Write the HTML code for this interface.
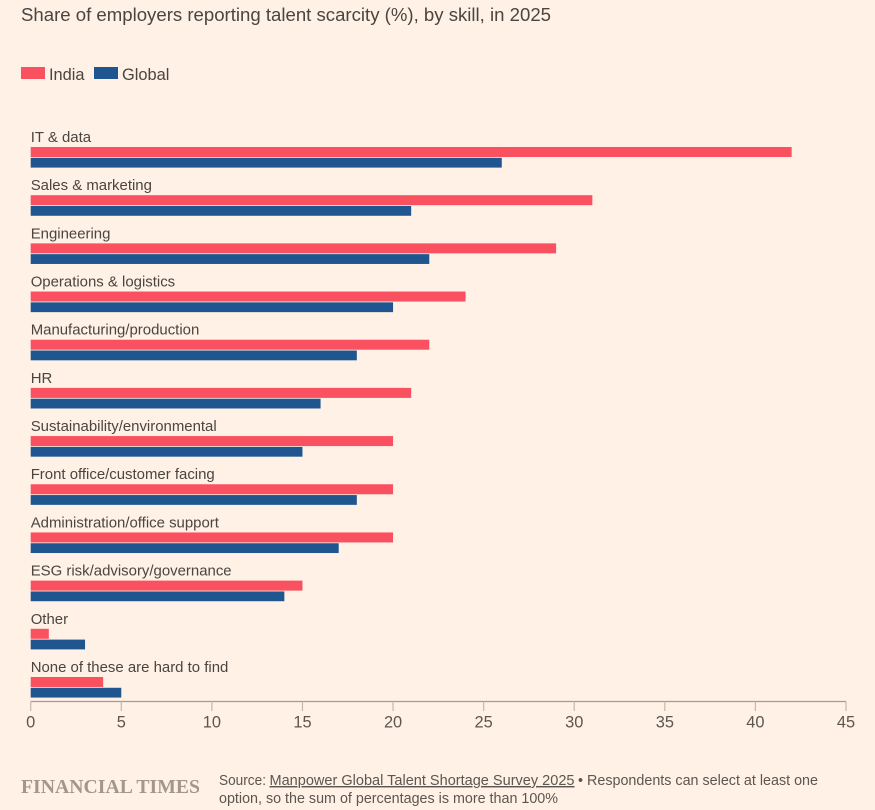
<!DOCTYPE html>
<html lang="en">
<head>
<meta charset="utf-8">
<title>Share of employers reporting talent scarcity</title>
<style>
  html, body { margin: 0; padding: 0; background: #fff1e5; }
  svg { display: block; font-family: "Liberation Sans", sans-serif; }
  .ink { fill: #4a4541; }
  .foot { fill: #5c5650; font-size: 14.3px; }
</style>
</head>
<body>
<svg id="chart" xmlns="http://www.w3.org/2000/svg" width="875" height="810" viewBox="0 0 875 810">
  <rect x="0" y="0" width="875" height="810" fill="#fff1e5"/>
  <text class="ink" x="21" y="21" font-size="18.6" textLength="530" lengthAdjust="spacingAndGlyphs">Share of employers reporting talent scarcity (%), by skill, in 2025</text>
  <g>
    <rect x="21" y="67" width="24" height="12" fill="#f95160"/>
    <text class="ink" x="49" y="80" font-size="16.4">India</text>
    <rect x="94" y="67" width="24" height="12" fill="#1f5690"/>
    <text class="ink" x="122" y="80" font-size="16.4">Global</text>
  </g>
  <g id="plot"></g>
  <text x="21" y="793" font-family="'Liberation Serif', serif" font-weight="bold" font-size="20.5" fill="#a2978d" textLength="179" lengthAdjust="spacingAndGlyphs">FINANCIAL TIMES</text>
  <text class="foot" x="219" y="785" textLength="47" lengthAdjust="spacingAndGlyphs">Source:</text>
  <text class="foot" x="269.5" y="785" textLength="305" lengthAdjust="spacingAndGlyphs" text-decoration="underline">Manpower Global Talent Shortage Survey 2025</text>
  <text class="foot" x="578" y="785" textLength="240" lengthAdjust="spacingAndGlyphs">• Respondents can select at least one</text>
  <text class="foot" x="219" y="803" textLength="339" lengthAdjust="spacingAndGlyphs">option, so the sum of percentages is more than 100%</text>
</svg>
<script>
const categories = ["IT & data", "Sales & marketing", "Engineering", "Operations & logistics", "Manufacturing/production", "HR", "Sustainability/environmental", "Front office/customer facing", "Administration/office support", "ESG risk/advisory/governance", "Other", "None of these are hard to find"];
const indiaValues = [42, 31, 29, 24, 22, 21, 20, 20, 20, 15, 1, 4];
const globalValues = [26, 21, 22, 20, 18, 16, 15, 18, 17, 14, 3, 5];
const tickValues = [0, 5, 10, 15, 20, 25, 30, 35, 40, 45];

const NS = "http://www.w3.org/2000/svg";
const plot = document.getElementById("plot");
const xMax = 45;
function xScale(v) { return 30.7 + (v / xMax) * (846 - 30.7); }
function rowTop(i) { return 147 + i * 48.18; }

function make(tag, attrs, parent) {
  const el = document.createElementNS(NS, tag);
  for (const k in attrs) el.setAttribute(k, attrs[k]);
  parent.appendChild(el);
  return el;
}

categories.forEach(function (cat, i) {
  const slug = cat.toLowerCase().replace(/[^a-z0-9]+/g, "-");
  const label = make("text", { x: xScale(0), y: rowTop(i) - 5.05, "font-size": 14.95, "class": "ink" }, plot);
  label.textContent = cat;
  
  
  const india = make("rect", { x: xScale(0), y: rowTop(i), width: xScale(indiaValues[i]) - xScale(0), height: 10, fill: "#f95160" }, plot);
  
  
  const glob = make("rect", { x: xScale(0), y: rowTop(i) + 10.8, width: xScale(globalValues[i]) - xScale(0), height: 9.8, fill: "#1f5690" }, plot);
  
  
});

const axis = make("line", { x1: xScale(0), x2: xScale(xMax), y1: 701.5, y2: 701.5, stroke: "#a39a90", "stroke-width": 1.2 }, plot);



tickValues.forEach(function (t) {
  const tick = make("line", { x1: xScale(t), x2: xScale(t), y1: 701.5, y2: 711, stroke: "#c2b9ae", "stroke-width": 1.2 }, plot);
  
  
  const lab = make("text", { x: xScale(t), y: 727.5, "text-anchor": "middle", "font-size": 16.4, fill: "#5c5650" }, plot);
  lab.textContent = t;
  
  
});
</script>
</body>
</html>
